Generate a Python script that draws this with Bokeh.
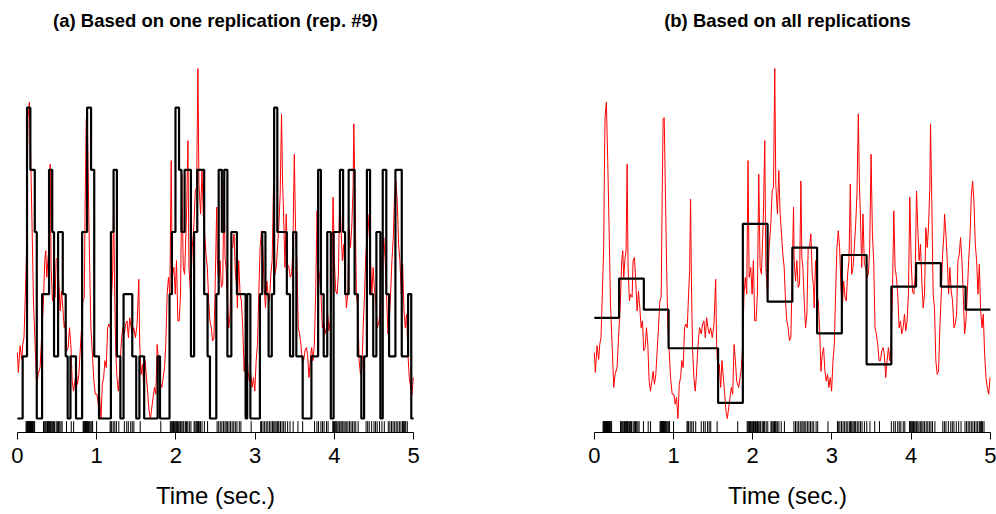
from bokeh.plotting import figure
from bokeh.layouts import row
from bokeh.embed import file_html
from bokeh.resources import INLINE
from bokeh.models import FixedTicker, Range1d, Title

# ---------------- data ----------------
# smoothed firing-rate estimate (red), time in seconds
red_t = [0.000, 0.013, 0.034, 0.055, 0.068, 0.084, 0.101, 0.118, 0.127, 0.135, 0.152, 0.169, 0.186, 0.203,
         0.224, 0.245, 0.262, 0.287, 0.308, 0.329, 0.346, 0.359, 0.371, 0.388, 0.401, 0.414, 0.426, 0.443,
         0.456, 0.477, 0.489, 0.506, 0.523, 0.540, 0.557, 0.574, 0.591, 0.608, 0.624, 0.641, 0.658, 0.675,
         0.692, 0.709, 0.726, 0.743, 0.759, 0.776, 0.793, 0.810, 0.827, 0.844, 0.857, 0.869, 0.882, 0.899,
         0.911, 0.928, 0.945, 0.962, 0.983, 1.004, 1.021, 1.038, 1.055, 1.072, 1.089, 1.105, 1.122, 1.139,
         1.156, 1.173, 1.190, 1.203, 1.215, 1.228, 1.241, 1.257, 1.274, 1.287, 1.300, 1.316, 1.329, 1.350,
         1.367, 1.384, 1.401, 1.418, 1.435, 1.451, 1.468, 1.489, 1.511, 1.532, 1.544, 1.561, 1.578, 1.595,
         1.612, 1.629, 1.646, 1.662, 1.679, 1.696, 1.713, 1.730, 1.747, 1.764, 1.781, 1.797, 1.823, 1.840,
         1.857, 1.873, 1.890, 1.907, 1.924, 1.941, 1.954, 1.975, 1.992, 2.008, 2.025, 2.042, 2.059, 2.076,
         2.093, 2.110, 2.135, 2.152, 2.165, 2.186, 2.207, 2.228, 2.245, 2.262, 2.278, 2.291, 2.312, 2.329,
         2.346, 2.363, 2.380, 2.397, 2.414, 2.430, 2.447, 2.464, 2.481, 2.498, 2.515, 2.523, 2.540, 2.557,
         2.574, 2.591, 2.608, 2.620, 2.633, 2.650, 2.667, 2.684, 2.700, 2.717, 2.734, 2.751, 2.768, 2.776,
         2.793, 2.810, 2.827, 2.844, 2.861, 2.878, 2.895, 2.911, 2.928, 2.945, 2.962, 2.979, 2.996, 3.013,
         3.030, 3.046, 3.063, 3.080, 3.097, 3.114, 3.131, 3.148, 3.165, 3.181, 3.198, 3.215, 3.232, 3.249,
         3.266, 3.283, 3.300, 3.316, 3.333, 3.346, 3.359, 3.376, 3.392, 3.409, 3.426, 3.443, 3.460, 3.477,
         3.494, 3.511, 3.527, 3.544, 3.561, 3.578, 3.595, 3.612, 3.629, 3.646, 3.662, 3.679, 3.696, 3.713,
         3.730, 3.747, 3.764, 3.781, 3.797, 3.814, 3.831, 3.848, 3.865, 3.882, 3.899, 3.916, 3.932, 3.949,
         3.966, 3.983, 4.000, 4.017, 4.034, 4.051, 4.068, 4.084, 4.101, 4.118, 4.135, 4.152, 4.169, 4.186,
         4.203, 4.219, 4.236, 4.245, 4.262, 4.278, 4.295, 4.312, 4.329, 4.346, 4.363, 4.380, 4.397, 4.414,
         4.422, 4.439, 4.456, 4.473, 4.489, 4.506, 4.523, 4.540, 4.557, 4.574, 4.591, 4.608, 4.624, 4.641,
         4.658, 4.675, 4.692, 4.709, 4.726, 4.743, 4.759, 4.776, 4.793, 4.810, 4.827, 4.844, 4.861, 4.878,
         4.895, 4.911, 4.928, 4.945, 4.962, 4.979, 4.996]
red_y = [1.06, 0.74, 1.17, 0.95, 1.19, 1.30, 2.00, 2.75, 3.99, 4.84, 5.09, 4.15, 3.07, 1.89,
         1.19, 0.50, 0.71, 0.82, 1.36, 1.89, 2.54, 2.70, 2.27, 2.59, 2.70, 4.09, 2.43, 1.89,
         2.00, 1.95, 2.54, 2.59, 2.21, 1.73, 2.05, 1.78, 1.46, 1.57, 1.09, 1.14, 1.46, 1.19,
         0.60, 0.44, 0.60, 0.76, 0.55, 0.71, 1.09, 1.46, 1.89, 1.95, 3.61, 4.82, 4.84, 3.50,
         2.54, 1.46, 1.09, 0.66, 0.39, 0.39, 0.23, 0.34, 0.00, 0.55, 0.66, 0.93, 0.82, 1.46,
         1.52, 1.46, 2.00, 2.38, 3.53, 2.00, 1.09, 0.66, 0.44, 0.66, 0.98, 1.30, 1.46, 1.36,
         1.52, 1.57, 1.30, 1.62, 1.46, 1.36, 1.46, 1.30, 1.52, 2.24, 1.19, 0.71, 0.87, 0.50,
         0.93, 0.66, 0.39, 0.12, 0.00, 0.17, 0.34, 0.50, 0.39, 1.19, 0.93, 0.60, 0.50, 0.66,
         0.82, 1.19, 2.00, 2.27, 2.00, 4.15, 2.27, 2.43, 2.00, 2.54, 1.57, 1.57, 2.00, 3.93,
         2.43, 2.32, 3.29, 4.47, 2.43, 2.00, 2.75, 3.13, 3.66, 3.72, 5.63, 3.77, 3.29, 3.99,
         3.29, 2.97, 2.64, 2.43, 1.89, 1.57, 1.46, 1.25, 1.30, 2.27, 3.40, 2.54, 2.21, 2.54,
         2.11, 2.16, 3.82, 2.59, 2.43, 1.89, 1.46, 1.68, 2.75, 2.75, 2.97, 2.32, 2.11, 1.78,
         2.54, 2.00, 1.89, 1.46, 0.76, 1.03, 1.14, 0.76, 0.60, 0.71, 0.50, 0.66, 0.44, 0.93,
         1.19, 2.00, 2.75, 3.02, 2.75, 2.11, 1.78, 2.21, 1.95, 1.89, 2.32, 2.54, 3.77, 2.32,
         2.43, 2.75, 3.13, 3.61, 4.90, 3.82, 3.29, 2.43, 3.29, 2.48, 2.43, 2.27, 2.32, 2.75,
         4.25, 2.97, 2.54, 1.46, 1.36, 1.19, 0.93, 0.93, 1.09, 1.14, 1.03, 0.66, 0.93, 1.14,
         0.93, 1.19, 2.00, 3.34, 2.43, 2.27, 2.00, 1.46, 1.57, 1.36, 1.46, 1.68, 1.41, 1.57,
         2.00, 3.56, 2.54, 2.05, 2.00, 2.32, 3.66, 3.07, 2.54, 2.80, 2.21, 1.78, 2.00, 3.07,
         2.75, 3.07, 3.72, 4.74, 3.40, 2.00, 1.78, 0.93, 0.71, 0.76, 1.46, 2.00, 2.64, 2.97,
         3.29, 2.97, 2.54, 2.00, 2.43, 2.05, 1.89, 1.46, 1.52, 1.68, 2.54, 2.64, 2.91, 2.54,
         2.00, 1.36, 1.57, 2.00, 2.54, 2.91, 3.56, 3.82, 3.50, 2.80, 2.54, 2.00, 2.48, 1.73,
         1.46, 1.68, 1.03, 0.66, 0.50, 0.39, 0.66]

# (a) estimate from one replication: change points and spike counts
one_edges = [0.000, 0.067, 0.122, 0.164, 0.220, 0.245, 0.312, 0.400, 0.440, 0.463, 0.514, 0.573, 0.610,
             0.635, 0.670, 0.740, 0.817, 0.880, 0.930, 0.970, 1.030, 1.180, 1.214, 1.256, 1.300, 1.340,
             1.450, 1.500, 1.540, 1.600, 1.770, 1.800, 1.920, 1.950, 1.995, 2.040, 2.070, 2.110, 2.190,
             2.230, 2.270, 2.357, 2.400, 2.430, 2.510, 2.540, 2.580, 2.610, 2.650, 2.700, 2.770, 2.880,
             2.900, 2.940, 3.060, 3.090, 3.130, 3.170, 3.210, 3.240, 3.280, 3.400, 3.440, 3.480, 3.520,
             3.600, 3.710, 3.795, 3.830, 3.865, 3.910, 3.955, 3.990, 4.070, 4.110, 4.135, 4.180, 4.255,
             4.295, 4.340, 4.375, 4.410, 4.450, 4.490, 4.530, 4.580, 4.610, 4.655, 4.690, 4.770, 4.850,
             4.930, 4.970, 5.000]
one_counts = [0, 1, 5, 4, 3, 0, 2, 4, 3, 1, 3, 2, 1,
              0, 1, 0, 3, 5, 4, 1, 0, 3, 4, 1, 0, 2,
              1, 0, 1, 0, 1, 0, 2, 3, 5, 4, 3, 4, 1,
              3, 4, 2, 1, 0, 2, 4, 3, 4, 1, 3, 2, 0,
              2, 0, 2, 3, 2, 1, 2, 5, 3, 2, 1, 3, 1,
              0, 1, 4, 2, 1, 3, 0, 3, 4, 3, 2, 4, 2,
              1, 0, 1, 4, 2, 1, 3, 0, 4, 2, 1, 4, 1,
              2, 0]

# (b) estimate from all replications: 16 equal bins
all_edges = [0.0, 0.3125, 0.625, 0.9375, 1.25, 1.5625, 1.875, 2.1875, 2.5, 2.8125, 3.125, 3.4375,
             3.75, 4.0625, 4.375, 4.6875, 5.0]
all_rates = [1.62, 2.25, 1.75, 1.13, 1.13, 0.25, 3.13, 1.88, 2.75, 1.37, 2.63, 0.87, 2.12, 2.50,
             2.12, 1.75]

# spike times of replication #9 (rug)
spikes = [0.110, 0.118, 0.125, 0.131, 0.137, 0.142, 0.148, 0.153, 0.160, 0.166, 0.171, 0.178, 0.185,
          0.192, 0.200, 0.209, 0.218,
          0.330, 0.345, 0.358, 0.372, 0.380, 0.392, 0.404, 0.411, 0.420, 0.428, 0.445, 0.458, 0.470,
          0.490, 0.505, 0.520, 0.535, 0.550, 0.565, 0.620, 0.680, 0.710,
          0.830, 0.838, 0.845, 0.852, 0.858, 0.865, 0.870, 0.876, 0.882, 0.889, 0.896, 0.905, 0.915,
          0.928, 0.940, 0.950, 1.000,
          1.170, 1.180, 1.190, 1.210, 1.230, 1.250, 1.280, 1.350, 1.380, 1.400, 1.430, 1.450, 1.470,
          1.550, 1.810,
          1.930, 1.940, 1.950, 1.960, 1.970, 1.980, 1.990, 2.000, 2.010, 2.020, 2.035, 2.050, 2.060,
          2.075, 2.090, 2.100, 2.120, 2.135, 2.150, 2.170, 2.190,
          2.230, 2.240, 2.255, 2.265, 2.275, 2.285, 2.295, 2.310, 2.330, 2.360, 2.400,
          2.520, 2.540, 2.560, 2.580, 2.600, 2.620, 2.635, 2.650, 2.670, 2.690, 2.710, 2.730, 2.750,
          2.770, 2.800, 2.820, 2.950,
          3.070, 3.080, 3.100, 3.120, 3.140, 3.160, 3.180, 3.200, 3.220, 3.235, 3.250, 3.265, 3.280,
          3.290, 3.300, 3.320, 3.340, 3.360, 3.380, 3.410, 3.440, 3.480, 3.540, 3.600,
          3.750, 3.780, 3.800, 3.830, 3.850, 3.870, 3.900, 3.920,
          3.980, 3.990, 4.000, 4.010, 4.020, 4.030, 4.045, 4.060, 4.070, 4.085, 4.100, 4.120, 4.135,
          4.150, 4.170, 4.190, 4.210, 4.230, 4.250, 4.270, 4.300,
          4.400, 4.420, 4.440, 4.470, 4.500, 4.520, 4.540, 4.570, 4.600, 4.630,
          4.680, 4.700, 4.720, 4.740, 4.760, 4.780, 4.800, 4.820, 4.840, 4.860, 4.870, 4.880, 4.890,
          4.900, 4.920]

x_ticks = [0, 1, 2, 3, 4, 5]
titles = ["(a) Based on one replication (rep. #9)", "(b) Based on all replications"]
x_label = "Time (sec.)"

# ---------------- styling ----------------
FONT = "Liberation Sans"
ymax = max(red_y)
y0, y1 = -0.04 * ymax, 1.04 * ymax
rug_len = 0.03 * (y1 - y0)


def make_panel(title, edges, levels, x_end, left_border, right_border, frame_w):
    p = figure(width=left_border + frame_w + right_border, height=514,
               output_backend="svg", toolbar_location=None,
               x_range=Range1d(-0.2, x_end), y_range=Range1d(y0, y1),
               y_axis_location=None, min_border_left=left_border,
               min_border_right=right_border, min_border_top=0, min_border_bottom=82,
               frame_width=frame_w, frame_height=378)
    p.grid.visible = False
    p.outline_line_color = None
    p.background_fill_color = "white"
    p.border_fill_color = "white"

    # invisible spacer next to the frame, then the panel title above it
    p.add_layout(Title(text=" ", text_font_size="1px", standoff=10), "above")
    p.add_layout(Title(text=title, text_font=FONT, text_font_size="18.5px",
                       text_font_style="bold", align="center", vertical_align="top",
                       text_color="black", standoff=18), "above")

    ax = p.xaxis[0]
    ax.ticker = FixedTicker(ticks=x_ticks)
    ax.bounds = (x_ticks[0], x_ticks[-1])
    ax.minor_tick_line_color = None
    ax.major_tick_in = 0
    ax.major_tick_out = 7
    ax.axis_line_color = "black"
    ax.major_tick_line_color = "black"
    ax.major_label_text_font = FONT
    ax.major_label_text_font_size = "22px"
    ax.major_label_text_color = "black"
    ax.major_label_standoff = 8
    ax.axis_label = x_label
    ax.axis_label_text_font = FONT
    ax.axis_label_text_font_size = "24px"
    ax.axis_label_text_font_style = "normal"
    ax.axis_label_text_color = "black"
    ax.axis_label_standoff = 16

    p.line(red_t, red_y, line_color="#ff0000", line_width=1)
    p.step(edges, list(levels) + [levels[-1]], mode="after", line_color="black", line_width=2.2)
    p.segment(x0=spikes, x1=spikes, y0=[y0] * len(spikes), y1=[y0 + rug_len] * len(spikes),
              line_color="black", line_width=1)
    return p


p1 = make_panel(titles[0], one_edges, one_counts, 5.2, 1, 149, 428)
p2 = make_panel(titles[1], all_edges, all_rates, -0.2 + 418 / 79.2, 0, 0, 418)

layout = row(p1, p2, spacing=0)
html = file_html(layout, INLINE)
open("out.html", "w").write(html)
